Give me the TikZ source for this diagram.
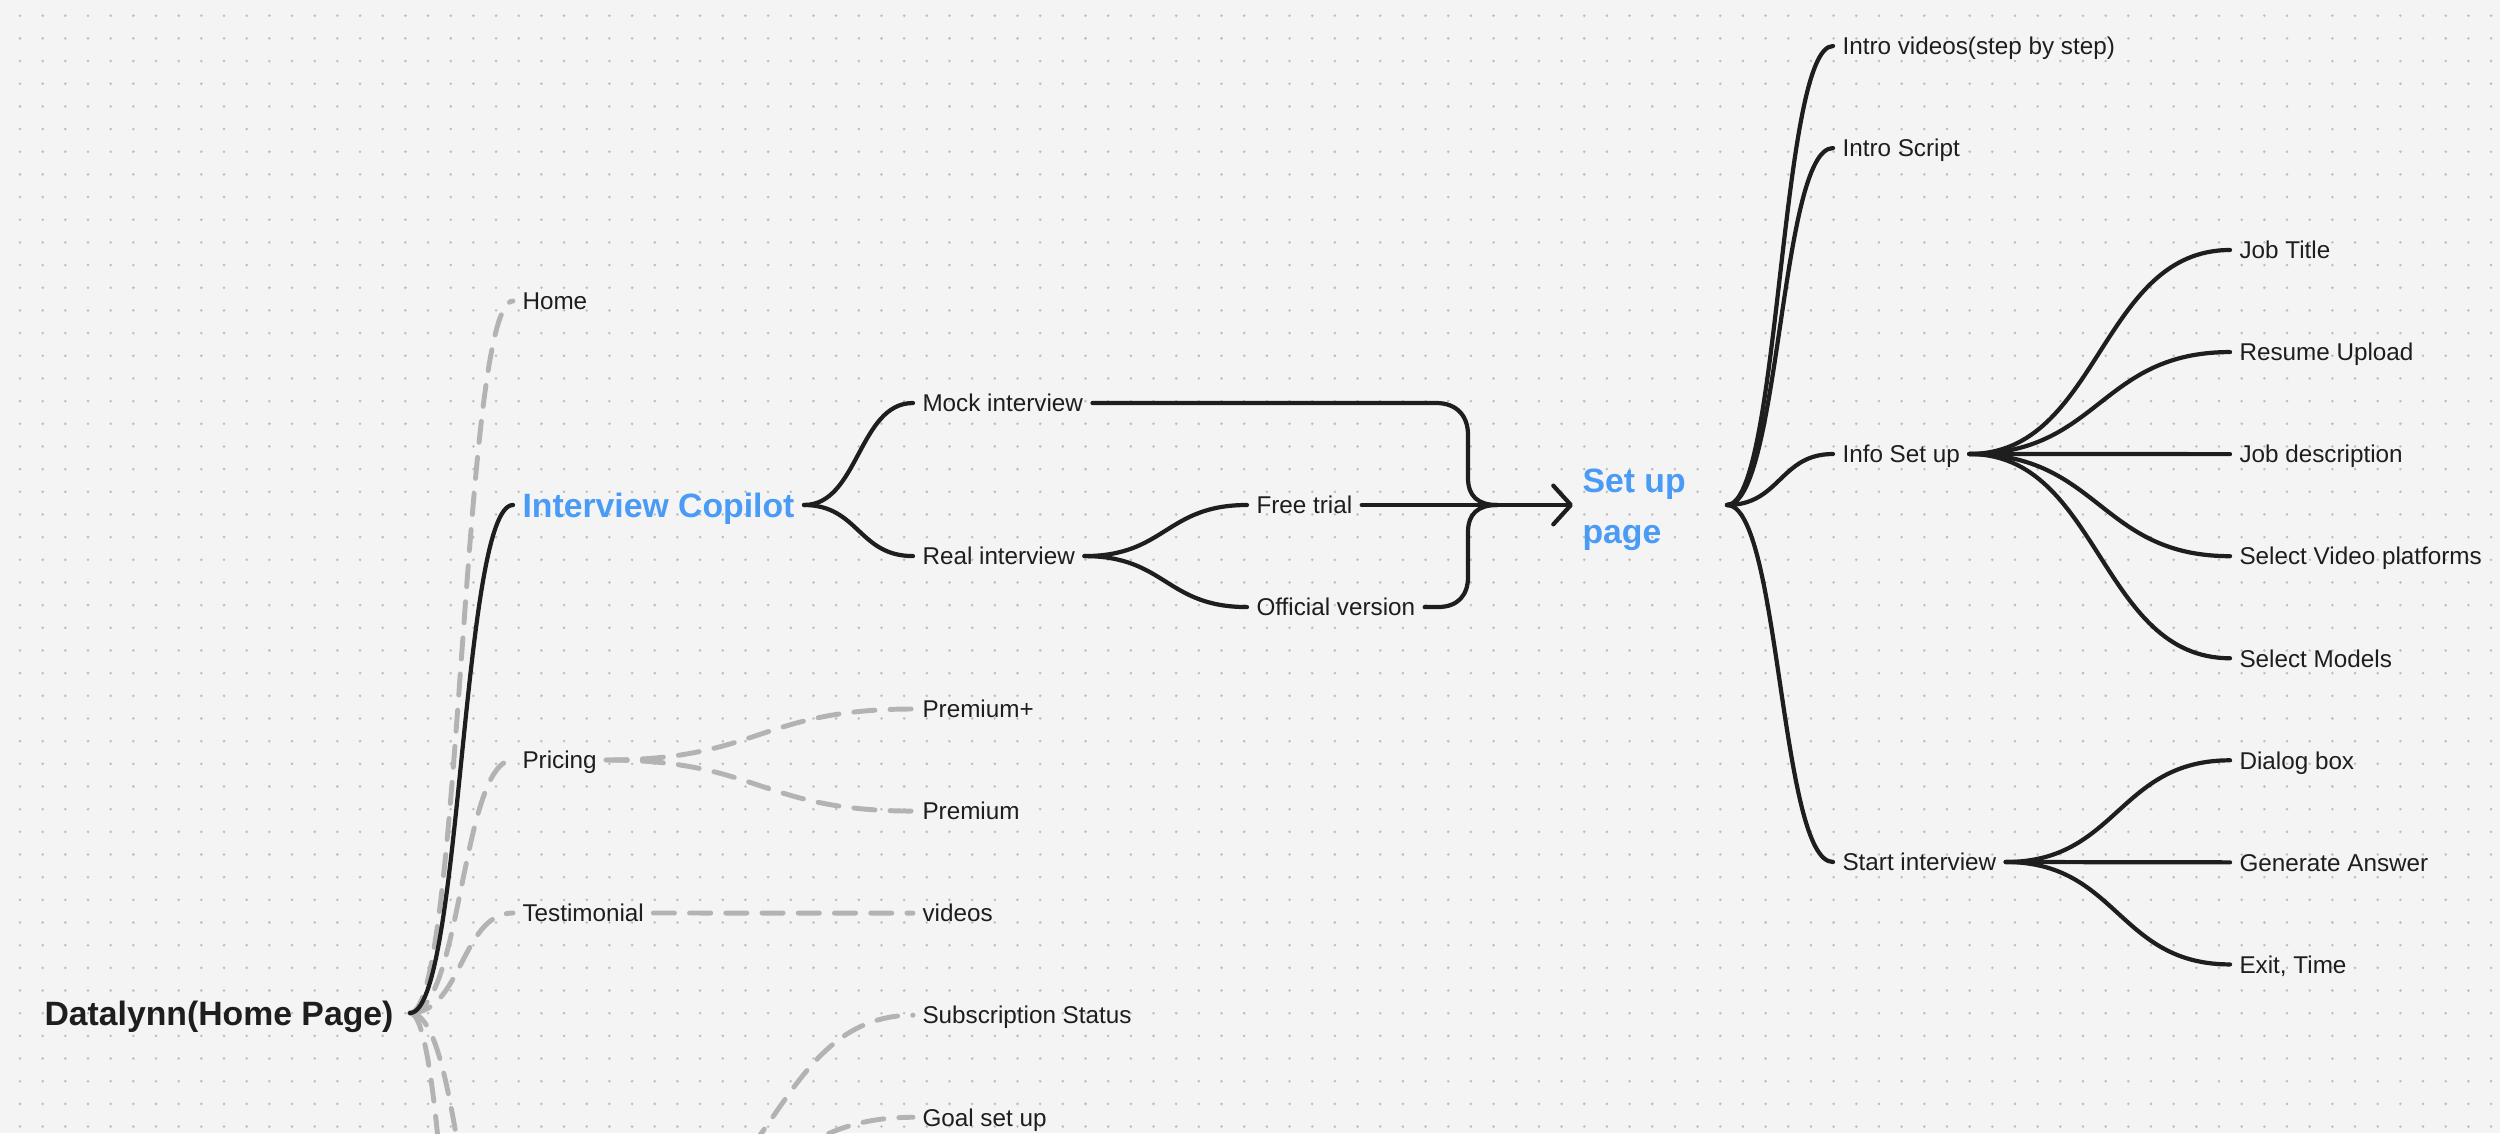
\documentclass[tikz,border=0pt]{standalone}
\usepackage{fontspec}
\setmainfont{Liberation Sans}
\usepackage{xcolor}
\usepackage{tikz}
\usetikzlibrary{arrows.meta, calc, positioning}

\definecolor{canvas}{HTML}{F4F4F4}
\definecolor{dotgrey}{HTML}{BDBDBD}
\definecolor{ink}{HTML}{1E1E1E}
\definecolor{softgrey}{HTML}{B3B3B3}
\definecolor{copilotblue}{HTML}{4A9BF5}

\begin{document}
\begin{tikzpicture}[x=0.01cm, y=-0.01cm]

    % Define styles for the nodes
    \tikzstyle{leaf} = [
        anchor=west, inner xsep=2.5pt, inner ysep=0pt,
        text height=5pt, text depth=0pt, text=ink,
        font=\fontsize{6.9}{8}\selectfont
    ]
    \tikzstyle{rootbox} = [
        anchor=east, inner xsep=4.5pt, inner ysep=0pt,
        text height=6.9pt, text depth=0pt, text=ink,
        font=\fontsize{9.6}{12}\selectfont\bfseries
    ]
    \tikzstyle{hubbox} = [
        anchor=west, inner xsep=2.5pt, inner ysep=0pt, align=left,
        text=copilotblue, font=\fontsize{9.6}{14.5}\selectfont\bfseries
    ]
    \tikzstyle{link} = [draw=ink, line width=1.2pt, line cap=round, line join=round]
    \tikzstyle{soft} = [
        draw=softgrey, line width=1.4pt, line cap=round,
        dash pattern=on 6pt off 4.3pt
    ]
    \tikzstyle{branch} = [to path={
        let \p1 = (\tikztostart), \p2 = (\tikztotarget) in
        .. controls ({(\x1+\x2)/2}, \y1) and ({(\x1+\x2)/2}, \y2) .. (\tikztotarget)
    }]

    % Canvas with dot grid
    \useasboundingbox (0,0) rectangle (2500,1133);
    \clip (0,0) rectangle (2500,1133);
    \fill[canvas] (0,0) rectangle (2500,1133);
    \foreach \i in {0,...,109}
        \foreach \j in {0,...,49}
            \fill[dotgrey] (20+22.67*\i, 15.7+22.67*\j) circle (0.4pt);

    % Nodes
    \node (root) [rootbox] at (410,1013) {Datalynn(Home Page)};
    \node (home) [leaf] at (513,301) {Home};
    \node (copilot) [hubbox, text height=6.9pt, text depth=0pt, inner ysep=0pt] at (513,505) {Interview Copilot};
    \node (pricing) [leaf] at (513,760) {Pricing};
    \node (testimonial) [leaf] at (513,913) {Testimonial};

    \node (mock) [leaf] at (913,403) {Mock interview};
    \node (real) [leaf, below=1.53cm of mock.west, anchor=west] {Real interview};
    \node (premplus) [leaf] at (913,709) {Premium+};
    \node (premium) [leaf, below=1.02cm of premplus.west, anchor=west] {Premium};
    \node (videos) [leaf, below=1.02cm of premium.west, anchor=west] {videos};
    \node (substatus) [leaf, below=1.02cm of videos.west, anchor=west] {Subscription Status};
    \node (goal) [leaf, below=1.02cm of substatus.west, anchor=west] {Goal set up};

    \node (free) [leaf] at (1247,505) {Free trial};
    \node (official) [leaf, below=1.02cm of free.west, anchor=west] {Official version};
    \node (setup) [hubbox, yshift=-1.4pt] at (1573,505) {Set up\\page};

    \node (introvid) [leaf] at (1833,46) {Intro videos(step by step)};
    \node (introscript) [leaf, below=1.02cm of introvid.west, anchor=west] {Intro Script};
    \node (info) [leaf] at (1833,454) {Info Set up};
    \node (start) [leaf] at (1833,862) {Start interview};

    \node (jobtitle) [leaf] at (2230,250) {Job Title};
    \node (resume) [leaf, below=1.02cm of jobtitle.west, anchor=west] {Resume Upload};
    \node (jobdesc) [leaf, below=1.02cm of resume.west, anchor=west] {Job description};
    \node (platforms) [leaf, below=1.02cm of jobdesc.west, anchor=west] {Select Video platforms};
    \node (models) [leaf, below=1.02cm of platforms.west, anchor=west] {Select Models};
    \node (dialog) [leaf, below=1.02cm of models.west, anchor=west] {Dialog box};
    \node (answer) [leaf, below=1.02cm of dialog.west, anchor=west] {Generate Answer};
    \node (exit) [leaf, below=1.02cm of answer.west, anchor=west] {Exit, Time};

    % Free ends and joints
    \coordinate (lowA) at (513,2000);
    \coordinate (lowB) at (513,1320);
    \coordinate (lowhub) at (633,1218);
    \coordinate (merge) at (1497,505);
    \coordinate (arrowtip) at (1573,505);
    \coordinate (setuphub) at (1727,505);

    % Dashed branches
    \draw [soft] (root.east) to[branch] (home.west);
    \draw [soft] (root.east) to[branch] (pricing.west);
    \draw [soft] (root.east) to[branch] (testimonial.west);
    \draw [soft] (root.east) to[branch] (lowA);
    \draw [soft] (root.east) to[branch] (lowB);
    \draw [soft] (pricing.east) to[branch] (premplus.west);
    \draw [soft] (pricing.east) to[branch] (premium.west);
    \draw [soft] (testimonial.east) -- (videos.west);
    \draw [soft] (lowhub) to[branch] (substatus.west);
    \draw [soft] (lowhub) to[branch] (goal.west);

    % Solid branches
    \draw [link] (root.east) to[branch] (copilot.west);
    \draw [link] (copilot.east) to[branch] (mock.west);
    \draw [link] (copilot.east) to[branch] (real.west);
    \draw [link] (real.east) to[branch] (free.west);
    \draw [link] (real.east) to[branch] (official.west);
    \draw [link] (mock.east) -- (1436,403) .. controls (1456,403) and (1468,415) .. (1468,435)
        -- (1468,478) .. controls (1468,496) and (1478,505) .. (merge);
    \draw [link] (official.east) -- (1438,607) .. controls (1458,607) and (1468,595) .. (1468,577)
        -- (1468,532) .. controls (1468,514) and (1478,505) .. (merge);
    \draw [link, -{Straight Barb[round, length=5pt, width=11pt]}] (free.east) -- (arrowtip);

    \draw [link] (setuphub) to[branch] (introvid.west);
    \draw [link] (setuphub) to[branch] (introscript.west);
    \draw [link] (setuphub) to[branch] (info.west);
    \draw [link] (setuphub) to[branch] (start.west);

    \draw [link] (info.east) to[branch] (jobtitle.west);
    \draw [link] (info.east) to[branch] (resume.west);
    \draw [link] (info.east) -- (jobdesc.west);
    \draw [link] (info.east) to[branch] (platforms.west);
    \draw [link] (info.east) to[branch] (models.west);

    \draw [link] (start.east) to[branch] (dialog.west);
    \draw [link] (start.east) -- (answer.west);
    \draw [link] (start.east) to[branch] (exit.west);

\end{tikzpicture}
\end{document}
